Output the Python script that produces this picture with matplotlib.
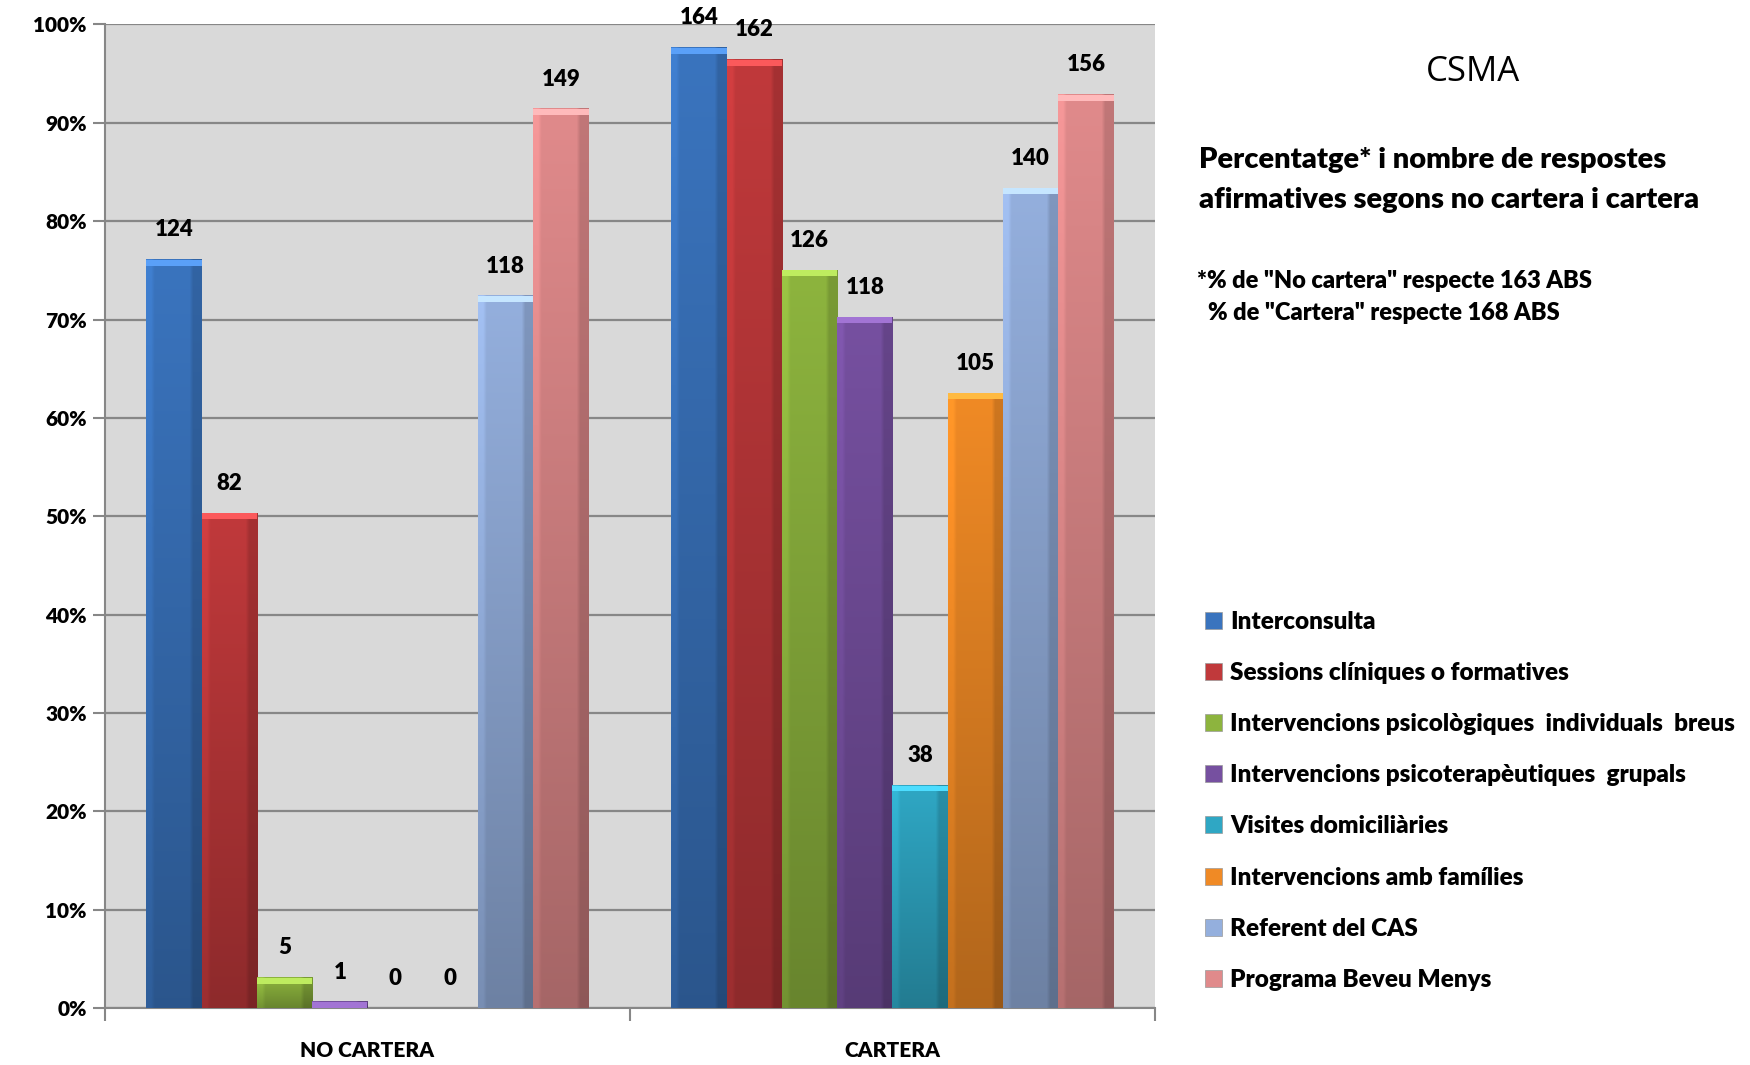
import numpy as np
import matplotlib
matplotlib.use('Agg')
import matplotlib.pyplot as plt
from matplotlib.colors import to_rgb
from matplotlib.patches import Patch

plt.rcParams['font.family'] = ['Lato', 'DejaVu Sans']

# dades
grups = ['NO CARTERA', 'CARTERA']
totals = [163, 168]
series = ['Interconsulta', 'Sessions clíniques o formatives',
          'Intervencions psicològiques  individuals  breus',
          'Intervencions psicoterapèutiques  grupals', 'Visites domiciliàries',
          'Intervencions amb famílies', 'Referent del CAS', 'Programa Beveu Menys']
no_cartera = [124, 82, 5, 1, 0, 0, 118, 149]
cartera = [164, 162, 126, 118, 38, 105, 140, 156]
colors = ['#3A74BE', '#C0393B', '#8DB43E', '#7650A0', '#2FA7C4', '#F08A25', '#94AFDD', '#E08A8B']

fig = plt.figure(figsize=(17.5, 10.65), dpi=100)
ax = fig.add_axes([0.06, 0.0535, 0.6, 0.9235])
ax.set_facecolor('#D9D9D9')

n = len(series)
w = 1 / 9.5
x = np.arange(len(grups))
for i in range(n):
    counts = [no_cartera[i], cartera[i]]
    pct = [counts[j] / totals[j] * 100 for j in range(len(grups))]
    bars = ax.bar(x + (i - 3.5) * w, pct, w, color=colors[i], zorder=3,
                  edgecolor='none')
    base = np.array(to_rgb(colors[i]))
    for b, c in zip(bars, counts):
        h = b.get_height()
        if h > 0:
            # degradat vertical (efecte bisell)
            grad = np.linspace(1.0, 0.74, 64)[:, None, None] * base[None, None, :]
            side = np.ones((1, 16, 1))
            side[0, :2, 0] = 1.1
            side[0, -3:, 0] = 0.86
            img = np.clip(grad * side, 0, 1)
            ax.imshow(img, extent=[b.get_x(), b.get_x() + b.get_width(), 0, h],
                      aspect='auto', zorder=4, interpolation='bilinear')
            top = min(0.6, h)
            light = np.clip(base * 1.2 + 0.08, 0, 1)
            ax.fill_between([b.get_x(), b.get_x() + b.get_width()], h - top, h,
                            color=light, zorder=5, lw=0)
        ax.annotate(str(c), (b.get_x() + b.get_width() / 2, h), xytext=(0, 14),
                    textcoords='offset points', ha='center', va='bottom',
                    fontsize=16, fontweight='heavy', zorder=6, annotation_clip=False)

ax.set_xlim(-0.5, 1.5)
ax.set_ylim(0, 100)
ax.set_yticks(range(0, 101, 10))
ax.set_yticklabels([f'{v}%' for v in range(0, 101, 10)], fontsize=15, fontweight='heavy')
ax.yaxis.grid(True, color='#878787', lw=1.6, zorder=1)
ax.set_axisbelow(True)
ax.set_xticks(x)
ax.set_xticklabels(grups, fontsize=15, fontweight='heavy')
ax.set_xticks([-0.5, 0.5, 1.5], minor=True)
ax.tick_params(axis='x', which='major', length=0, pad=24)
ax.tick_params(axis='x', which='minor', length=9, color='#878787', width=1.5)
ax.tick_params(axis='y', length=9, color='#878787', width=1.5, pad=4)
for s in ['top', 'right']:
    ax.spines[s].set_visible(False)
for s in ['left', 'bottom']:
    ax.spines[s].set_color('#878787')
    ax.spines[s].set_linewidth(1.5)

fig.text(0.842, 0.932, 'CSMA', ha='center', va='center', fontsize=25,
         family=['Open Sans', 'DejaVu Sans'])
fig.text(0.685, 0.831, 'Percentatge* i nombre de respostes\nafirmatives segons no cartera i cartera',
         ha='left', va='center', fontsize=21, fontweight='heavy', linespacing=1.65)
fig.text(0.684, 0.721, '*% de "No cartera" respecte 163 ABS\n  % de "Cartera" respecte 168 ABS',
         ha='left', va='center', fontsize=17, fontweight='heavy', linespacing=1.55)

handles = [Patch(facecolor=c, edgecolor='#9a9a9a', lw=0.5) for c in colors]
fig.legend(handles, series, loc='upper left', bbox_to_anchor=(0.676, 0.447),
           frameon=False, handlelength=0.7, handleheight=0.7,
           handletextpad=0.35, labelspacing=1.2,
           prop={'weight': 'heavy', 'size': 17.5})

fig.savefig('out.png', dpi=100)
